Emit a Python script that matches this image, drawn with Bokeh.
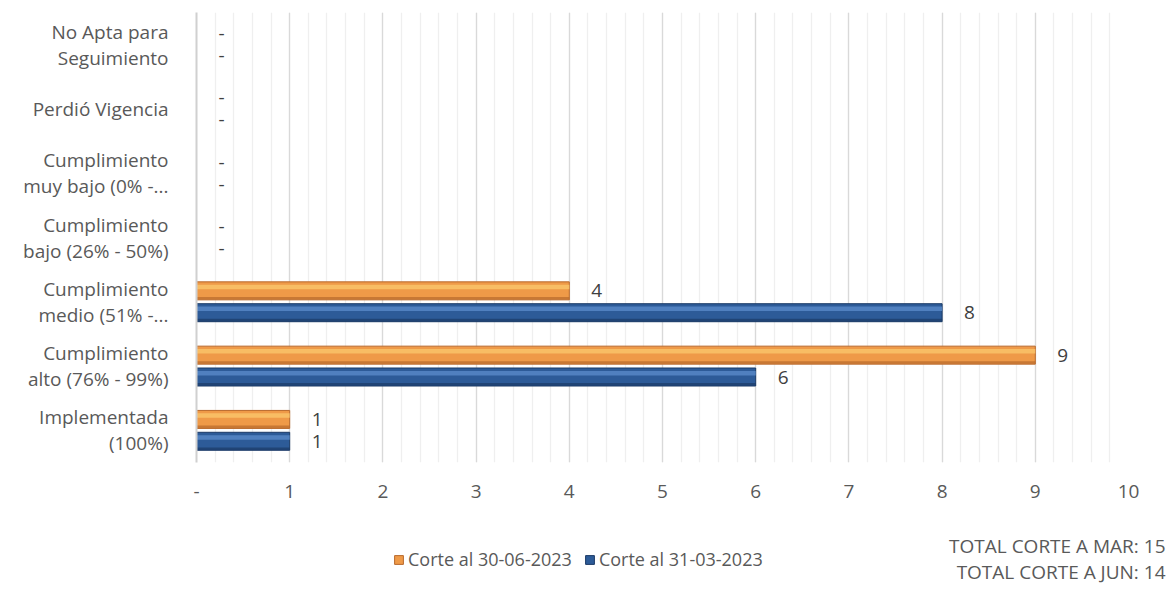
from bokeh.plotting import figure
from bokeh.models import (FactorRange, Range1d, SingleIntervalTicker, ColumnDataSource,
                          Legend, LegendItem, Label)
from bokeh.transform import dodge
from bokeh.core.properties import value
from bokeh.embed import file_html
from bokeh.resources import INLINE

categories = ["Implementada\n(100%)", "Cumplimiento\nalto (76% - 99%)", "Cumplimiento\nmedio (51% -...",
              "Cumplimiento\nbajo (26% - 50%)", "Cumplimiento\nmuy bajo (0% -...", "Perdió Vigencia",
              "No Apta para\nSeguimiento"]
corte_jun = [1, 9, 4, 0, 0, 0, 0]
corte_mar = [1, 6, 8, 0, 0, 0, 0]
series_names = ["Corte al 30-06-2023", "Corte al 31-03-2023"]
totals = ["TOTAL CORTE A MAR: 15", "TOTAL CORTE A JUN: 14"]

FONT = "Open Sans"
FS = "19px"

def lab(v):
    return "-" if v == 0 else str(v)

src = ColumnDataSource(dict(cat=categories, jun=corte_jun, mar=corte_mar,
                            jun_lab=[lab(v) for v in corte_jun],
                            mar_lab=[lab(v) for v in corte_mar]))

p = figure(width=1170, height=510, y_range=FactorRange(*categories, range_padding=0),
           x_range=Range1d(0, 10), output_backend="svg", toolbar_location=None,
           min_border_left=196, min_border_right=42, min_border_top=12, min_border_bottom=48)
p.outline_line_color = None

ticker = SingleIntervalTicker(interval=1, num_minor_ticks=5)
p.xaxis.ticker = ticker
p.xgrid.ticker = ticker
p.xgrid.grid_line_color = "#d9d9d9"
p.xgrid.grid_line_width = 1.3
p.xgrid.minor_grid_line_color = "#efefef"
p.xgrid.minor_grid_line_width = 1.3
p.ygrid.grid_line_color = None

p.xaxis.axis_line_color = None
p.xaxis.major_tick_line_color = None
p.xaxis.minor_tick_line_color = None
p.xaxis.major_label_overrides = {0: "-"}
p.xaxis.major_label_text_font = FONT
p.xaxis.major_label_text_font_size = FS
p.xaxis.major_label_text_color = "#595959"
p.xaxis.major_label_standoff = 16

p.yaxis.axis_line_color = "#d0d0d0"
p.yaxis.axis_line_width = 2
p.yaxis.major_tick_line_color = None
p.yaxis.minor_tick_line_color = None
p.yaxis.major_label_text_font = FONT
p.yaxis.major_label_text_font_size = FS
p.yaxis.major_label_text_color = "#595959"
p.yaxis.major_label_text_align = "right"
p.yaxis.major_label_text_line_height = 1.0
p.yaxis.major_label_standoff = 22

styles = [
    ("jun", 0.17, "#ef9a48", "#f9c36a", "#b8692c"),
    ("mar", -0.17, "#2d5b98", "#5787c6", "#1b3a66"),
]
H = 0.28
for col, off, body, hi, dark in styles:
    p.hbar(y=dodge("cat", off, range=p.y_range), left=0, right=col, height=H, source=src,
           fill_color=body, line_color=dark, line_width=1)
    p.hbar(y=dodge("cat", off + 0.06, range=p.y_range), left=0, right=col, height=0.07, source=src,
           fill_color=hi, line_color=None, fill_alpha=0.85)
    p.hbar(y=dodge("cat", off - 0.115, range=p.y_range), left=0, right=col, height=0.04, source=src,
           fill_color=dark, line_color=None, fill_alpha=0.7)
    p.text(x=col, y=dodge("cat", off, range=p.y_range), text=col + "_lab", source=src,
           x_offset=22, text_align="left", text_baseline="middle",
           text_font=value(FONT), text_font_size=FS, text_color="#404040")

# bottom strip (separate root): legend and totals
p2 = figure(width=1170, height=77, x_range=Range1d(0, 1170), y_range=Range1d(0, 77),
            output_backend="svg", toolbar_location=None, x_axis_type=None, y_axis_type=None,
            min_border_left=0, min_border_right=0, min_border_top=0, min_border_bottom=0)
p2.outline_line_color = None
p2.grid.grid_line_color = None

leg_r = []
for col, off, body, hi, dark in styles:
    # swatch renderers for the legend (kept outside the visible y range)
    r = p2.hbar(y=[-100], right=[1], height=1, fill_color=body, line_color=dark, line_width=1)
    leg_r.append(r)

legend = Legend(items=[LegendItem(label=series_names[0], renderers=[leg_r[0]]),
                       LegendItem(label=series_names[1], renderers=[leg_r[1]])],
                orientation="horizontal", location=(393, 16), padding=0, margin=0,
                glyph_width=11, glyph_height=11, spacing=12, label_standoff=4, label_height=20,
                label_text_font=FONT, label_text_font_size="18px", label_text_color="#595959",
                border_line_color=None, background_fill_alpha=0)
p2.add_layout(legend)

p2.add_layout(Label(x=1165, y=42, text=totals[0], text_align="right", text_baseline="middle",
                    text_font=FONT, text_font_size=FS, text_color="#595959"))
p2.add_layout(Label(x=1165, y=16, text=totals[1], text_align="right", text_baseline="middle",
                    text_font=FONT, text_font_size=FS, text_color="#595959"))

open("out.html", "w").write(file_html([p, p2], INLINE))
